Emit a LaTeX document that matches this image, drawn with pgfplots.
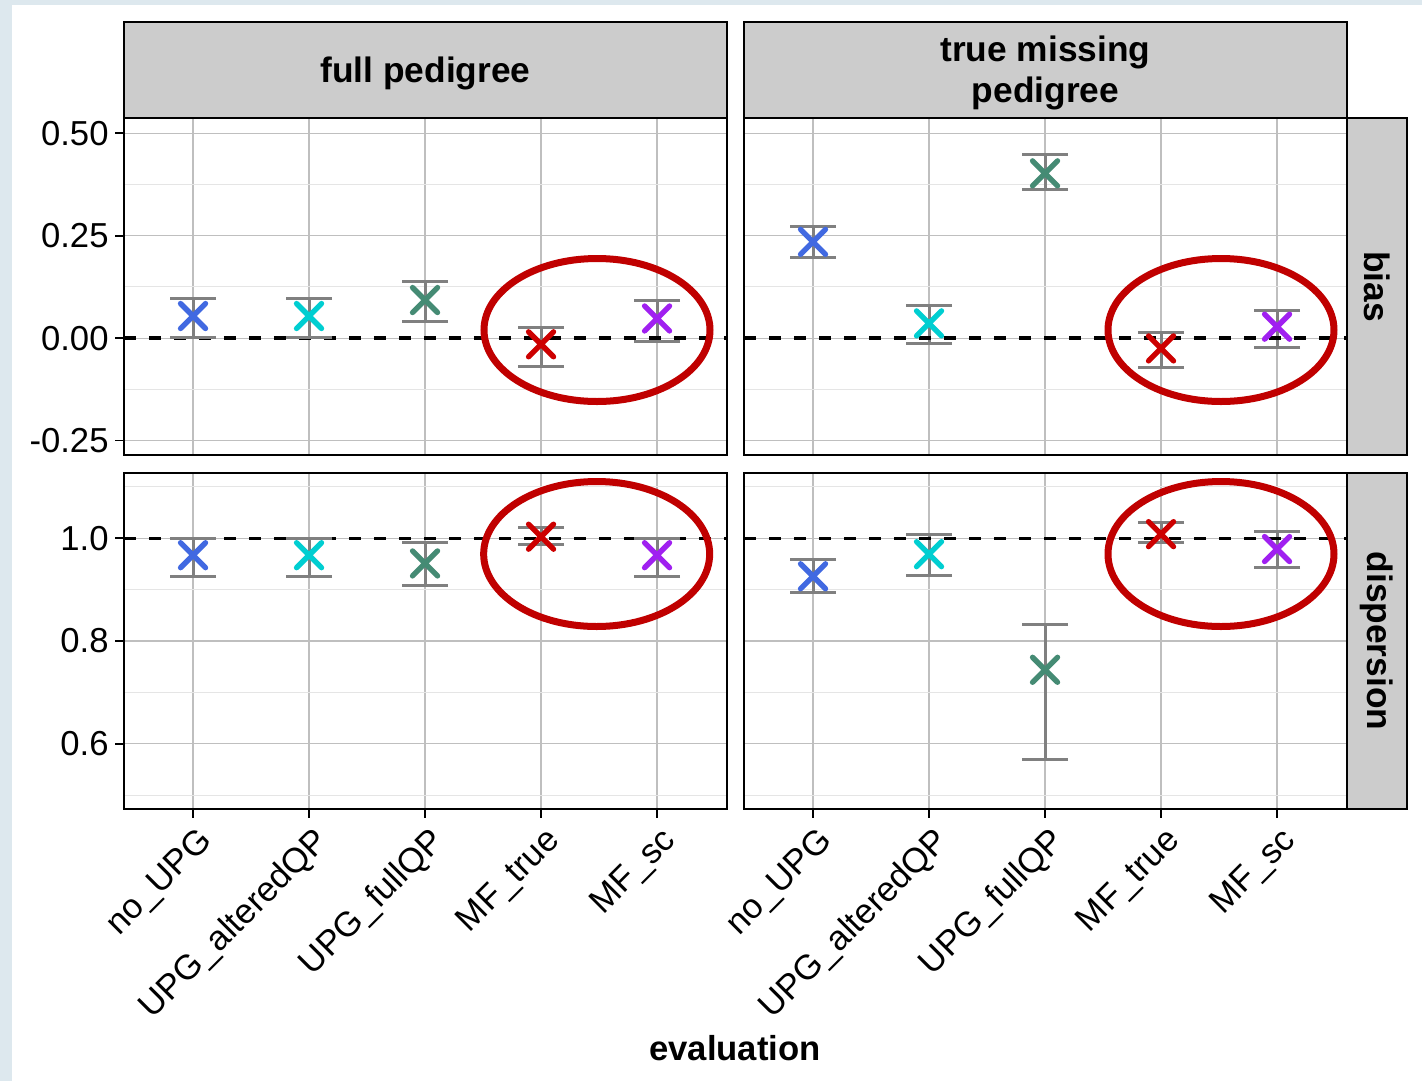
\documentclass[border=0pt]{standalone}
\usepackage{fontspec}
\setmainfont{Liberation Sans}
\usepackage{pgfplots}
\pgfplotsset{compat=1.18}
\definecolor{bgblue}{HTML}{DDE8EE}
\definecolor{c1}{HTML}{4169E1}
\definecolor{c2}{HTML}{00CED1}
\definecolor{c3}{HTML}{458B74}
\definecolor{c4}{HTML}{CD0000}
\definecolor{c5}{HTML}{A020F0}
\definecolor{ringred}{HTML}{C00000}
\definecolor{stripgrey}{HTML}{CCCCCC}
\definecolor{ebgrey}{HTML}{808080}

% point: colour, x, y
\newcommand{\ptx}[3]{\addplot[only marks, mark=x, mark size=5.3pt, color=#1, mark options={line width=1.6pt, line cap=round}] coordinates {(#2,#3)};}
% error bar: x, low, high
\newcommand{\eb}[3]{\addplot[ebgrey, line width=0.9pt, mark=none] coordinates {(#1,#2) (#1,#3)};
 \addplot[only marks, mark=-, mark size=6.9pt, ebgrey, mark options={line width=0.9pt}] coordinates {(#1,#2) (#1,#3)};}
\newcommand{\refline}[1]{\addplot[black, line width=1pt, dash pattern=on 3.6pt off 3.9pt] coordinates {(0.405,#1) (5.603,#1)};}

\pgfplotsset{
 panel/.style={scale only axis, width=180.9pt, xmin=0.405, xmax=5.603, xtick={1,2,3,4,5},
   axis line style={line width=0.6pt}, grid=both,
   major grid style={black!25, line width=0.35pt},
   minor grid style={black!10, line width=0.35pt},
   tick align=outside, major tick length=2.6pt, minor tick length=0pt,
   tick style={black, line width=0.5pt},
   ticklabel style={font=\fontsize{10.4}{12.4}\selectfont},
   yticklabel style={xshift=1.5pt},
   clip=false},
 toprow/.style={height=101.1pt, ymin=-0.285, ymax=0.537, ytick={-0.25,0,0.25,0.5},
   yticklabels={-0.25,0.00,0.25,0.50},
   minor ytick={-0.125,0.125,0.375}, xticklabels={}, xtick style={draw=none}},
 botrow/.style={height=100.8pt, ymin=0.473, ymax=1.127, ytick={0.6,0.8,1.0},
   yticklabels={0.6,0.8,1.0},
   minor ytick={0.5,0.7,0.9,1.1}, xtick pos=bottom,
   xticklabels={no\_UPG,UPG\_alteredQP,UPG\_fullQP,MF\_true,MF\_sc},
   xticklabel style={rotate=45, anchor=north east, inner sep=1pt, yshift=-1pt, xshift=0.3pt}},
 leftcol/.style={ytick pos=left},
 rightcol/.style={yticklabels={}, ytick style={draw=none}},
}

\begin{document}
\begin{tikzpicture}
\fill[bgblue] (0,0) rectangle (426.6pt,-324.3pt);
\fill[white] (3.6pt,-1.5pt) rectangle (426.6pt,-324.3pt);

% strips
\draw[fill=stripgrey, line width=0.6pt] (37.2pt,-6.6pt) rectangle (218.1pt,-35.4pt);
\draw[fill=stripgrey, line width=0.6pt] (223.2pt,-6.6pt) rectangle (404.1pt,-35.4pt);
\draw[fill=stripgrey, line width=0.6pt] (404.1pt,-35.4pt) rectangle (422.1pt,-136.5pt);
\draw[fill=stripgrey, line width=0.6pt] (404.1pt,-141.9pt) rectangle (422.1pt,-242.7pt);
\node[font=\fontsize{10.6}{12.3}\selectfont\bfseries] at (127.65pt,-22pt) {full pedigree};
\node[font=\fontsize{10.6}{12.3}\selectfont\bfseries, align=center] at (313.65pt,-22pt) {true missing\\pedigree};
\node[font=\fontsize{10.6}{12.4}\selectfont\bfseries, rotate=-90] at (413.1pt,-85.95pt) {bias};
\node[font=\fontsize{10.6}{12.4}\selectfont\bfseries, rotate=-90] at (413.1pt,-192.3pt) {dispersion};

% top-left: full pedigree, bias
\begin{axis}[panel, toprow, leftcol, at={(37.2pt,-35.4pt)}, anchor=north west]
\eb{1}{0.002}{0.097}
\eb{2}{0.002}{0.097}
\eb{3}{0.041}{0.137}
\eb{4}{-0.068}{0.025}
\eb{5}{-0.007}{0.093}
\refline{0}
\ptx{c1}{1}{0.054}
\ptx{c2}{2}{0.054}
\ptx{c3}{3}{0.093}
\ptx{c4}{4}{-0.015}
\ptx{c5}{5}{0.048}
\end{axis}

% top-right: true missing pedigree, bias
\begin{axis}[panel, toprow, rightcol, at={(223.2pt,-35.4pt)}, anchor=north west]
\eb{1}{0.197}{0.273}
\eb{2}{-0.013}{0.079}
\eb{3}{0.363}{0.448}
\eb{4}{-0.072}{0.015}
\eb{5}{-0.022}{0.068}
\refline{0}
\ptx{c1}{1}{0.235}
\ptx{c2}{2}{0.036}
\ptx{c3}{3}{0.402}
\ptx{c4}{4}{-0.025}
\ptx{c5}{5}{0.028}
\end{axis}

% bottom-left: full pedigree, dispersion
\begin{axis}[panel, botrow, leftcol, at={(37.2pt,-141.9pt)}, anchor=north west]
\eb{1}{0.926}{1.000}
\eb{2}{0.926}{1.000}
\eb{3}{0.909}{0.991}
\eb{4}{0.987}{1.020}
\eb{5}{0.926}{1.000}
\refline{1}
\ptx{c1}{1}{0.967}
\ptx{c2}{2}{0.967}
\ptx{c3}{3}{0.951}
\ptx{c4}{4}{1.003}
\ptx{c5}{5}{0.967}
\end{axis}

% bottom-right: true missing pedigree, dispersion
\begin{axis}[panel, botrow, rightcol, at={(223.2pt,-141.9pt)}, anchor=north west]
\eb{1}{0.895}{0.958}
\eb{2}{0.928}{1.008}
\eb{3}{0.569}{0.832}
\eb{4}{0.992}{1.030}
\eb{5}{0.943}{1.014}
\refline{1}
\ptx{c1}{1}{0.926}
\ptx{c2}{2}{0.969}
\ptx{c3}{3}{0.744}
\ptx{c4}{4}{1.008}
\ptx{c5}{5}{0.979}
\end{axis}

% highlight rings
\draw[ringred, line width=2.1pt] (179.1pt,-99pt) ellipse [x radius=33.9pt, y radius=21.45pt];
\draw[ringred, line width=2.1pt] (366.3pt,-99pt) ellipse [x radius=33.9pt, y radius=21.45pt];
\draw[ringred, line width=2.1pt] (179.0pt,-166.2pt) ellipse [x radius=33.9pt, y radius=21.75pt];
\draw[ringred, line width=2.1pt] (366.3pt,-166.2pt) ellipse [x radius=33.9pt, y radius=21.75pt];

\node[font=\fontsize{10.4}{12.5}\selectfont\bfseries] at (220.5pt,-314.4pt) {evaluation};
\end{tikzpicture}
\end{document}
